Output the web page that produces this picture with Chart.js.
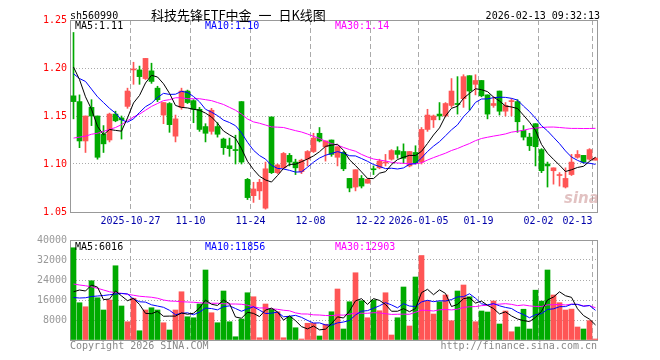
<!DOCTYPE html>
<html><head><meta charset="utf-8">
<script src="https://cdn.jsdelivr.net/npm/chart.js@4.4.1/dist/chart.umd.min.js"></script>
<style>
body{margin:0;background:#fff;width:660px;height:360px;position:relative;overflow:hidden;font-family:"DejaVu Sans Mono",monospace;}
.t{position:absolute;white-space:pre;font-size:10px;line-height:12px;color:#000;}
canvas{position:absolute;left:0;}
#c1{top:0;}
#c2{top:230px;}
</style></head><body>
<canvas id="c1" width="660" height="232"></canvas>
<canvas id="c2" width="660" height="130"></canvas>
<div class="t" style="left:70px;top:10px;">sh560990</div>
<div class="t" style="left:151px;top:7px;font-family:'Noto Sans CJK SC',sans-serif;font-size:13px;line-height:16px;word-spacing:4px;">科技先锋ETF中金 一 日K线图</div>
<div class="t" style="right:60px;top:10px;">2026-02-13 09:32:13</div>
<div class="t" id="m5" style="left:75px;top:20px;color:#000;"></div>
<div class="t" id="m10" style="left:205px;top:20px;color:#0000ff;"></div>
<div class="t" id="m30" style="left:335px;top:20px;color:#ff00ff;"></div>
<div class="t" id="v5" style="left:75px;top:241px;color:#000;"></div>
<div class="t" id="v10" style="left:205px;top:241px;color:#0000ff;"></div>
<div class="t" id="v30" style="left:335px;top:241px;color:#ff00ff;"></div>
<div class="t" style="left:70px;top:340px;color:#888;">Copyright 2026 SINA.COM</div>
<div class="t" style="right:63px;top:340px;color:#888;">http://finance.sina.com.cn</div>
<div class="t" style="left:564px;top:190px;font-family:'DejaVu Sans',sans-serif;font-style:italic;font-weight:bold;font-size:15px;line-height:16px;color:rgba(190,120,120,0.45);">sina</div>
<script>
// ---- data (2025-10-13 .. 2026-02-13, 88 trading days) ----
const openP = [
1.171,1.165,1.124,1.159,1.150,1.131,1.125,1.152,1.148,1.160,
1.198,1.198,1.189,1.197,1.179,1.151,1.163,1.129,1.159,1.176,
1.166,1.157,1.139,1.134,1.139,1.126,1.119,1.115,1.165,1.084,
1.067,1.072,1.054,1.149,1.091,1.096,1.109,1.102,1.092,1.105,
1.113,1.132,1.118,1.125,1.107,1.112,1.085,1.076,1.085,1.080,
1.095,1.096,1.101,1.105,1.114,1.113,1.098,1.112,1.102,1.136,
1.146,1.152,1.150,1.161,1.163,1.168,1.192,1.183,1.187,1.172,
1.161,1.176,1.155,1.165,1.165,1.135,1.128,1.142,1.115,1.100,
1.093,1.088,1.076,1.089,1.107,1.109,1.105,1.104];
const highP = [
1.237,1.172,1.150,1.167,1.150,1.140,1.153,1.155,1.150,1.179,
1.206,1.202,1.210,1.205,1.181,1.164,1.164,1.151,1.179,1.177,
1.167,1.159,1.142,1.158,1.143,1.127,1.127,1.130,1.165,1.085,
1.081,1.084,1.102,1.149,1.100,1.112,1.111,1.105,1.105,1.114,
1.132,1.138,1.124,1.125,1.118,1.113,1.085,1.094,1.088,1.085,
1.098,1.105,1.110,1.115,1.118,1.121,1.113,1.119,1.138,1.157,
1.151,1.164,1.164,1.189,1.191,1.193,1.192,1.193,1.187,1.172,
1.170,1.176,1.164,1.168,1.167,1.140,1.132,1.142,1.116,1.102,
1.096,1.091,1.096,1.110,1.114,1.109,1.116,1.107];
const lowP = [
1.147,1.117,1.112,1.140,1.105,1.112,1.123,1.144,1.126,1.158,
1.183,1.183,1.188,1.184,1.165,1.142,1.133,1.123,1.157,1.163,
1.143,1.134,1.123,1.131,1.128,1.110,1.108,1.100,1.100,1.063,
1.060,1.063,1.053,1.090,1.090,1.095,1.098,1.089,1.090,1.098,
1.112,1.123,1.103,1.108,1.098,1.093,1.071,1.072,1.075,1.080,
1.089,1.095,1.098,1.104,1.106,1.101,1.097,1.100,1.100,1.134,
1.138,1.146,1.149,1.159,1.152,1.159,1.156,1.172,1.170,1.147,
1.159,1.151,1.150,1.150,1.133,1.125,1.114,1.098,1.091,1.076,
1.079,1.077,1.075,1.088,1.106,1.101,1.104,1.104];
const closeP = [
1.165,1.124,1.150,1.150,1.107,1.121,1.152,1.145,1.146,1.176,
1.199,1.191,1.210,1.186,1.167,1.164,1.141,1.147,1.176,1.164,
1.157,1.136,1.132,1.156,1.131,1.117,1.116,1.114,1.102,1.065,
1.074,1.081,1.095,1.091,1.099,1.111,1.102,1.096,1.104,1.113,
1.127,1.124,1.124,1.110,1.118,1.095,1.075,1.094,1.077,1.084,
1.094,1.103,1.102,1.114,1.110,1.106,1.113,1.101,1.136,1.151,
1.150,1.150,1.163,1.176,1.162,1.191,1.176,1.187,1.171,1.152,
1.163,1.155,1.161,1.166,1.144,1.128,1.119,1.118,1.093,1.098,
1.096,1.089,1.085,1.102,1.110,1.102,1.115,1.106];
const volume = [
36900,14900,13300,23700,16900,12000,16000,29700,13600,7300,
16700,3700,12000,12900,12000,6900,4000,12000,19300,9300,
8900,14400,28000,10900,6900,19600,7300,1300,8400,18900,
17300,900,14400,12300,11300,900,9300,4900,400,6700,
6700,1600,6300,11300,20400,4400,15300,26900,15700,8900,
16000,11700,18900,2000,8900,21200,5600,25200,33800,15600,
10400,15300,18000,7700,19600,22000,17300,7300,11600,11200,
15600,6400,11600,3300,5200,12300,4400,19930,15550,28000,
18000,14930,12000,12350,5200,4400,7730,400];
const ma5Head  = [1.201,1.188,1.170,1.157];
const ma10Head = [1.194,1.189,1.186,1.178,1.170,1.164,1.158,1.153,1.146];
const ma30Head = [1.127,1.128,1.129,1.131,1.132,1.134,1.136,1.138,1.141,1.145,1.149,1.152,1.156,1.160,1.163,1.166,1.167,1.169,1.169,1.168,1.168,1.168,1.167,1.166,1.164,1.162,1.159,1.156,1.152];
const vma5Head  = [19300,20000,19600,22000];
const vma10Head = [17000,16800,16900,17400,17600,17800,18100,18400,18600];
const vma30Head = [22400,22000,21700,21300,20700,20000,19300,18900,18700,18300,17900,17500,17300,17100,16700,16000,15600,15500,15300,15200,15100,14900,14800,14700,14700,14500,14400,14400,14300];
// x tick labels (placed at the boundary before that day)
const tickIdx = [9.5,19.5,29.5,39.5,49.5,57.5,67.5,77.5,86.5];
const tickLabels = ['2025-10-27','11-10','11-24','12-08','12-22','2026-01-05','01-19','02-02','02-13     '];
const priceTicks = [1.05,1.10,1.15,1.20,1.25];
const volTicks = [0,8000,16000,24000,32000,40000];

// ---- helpers ----
const N = closeP.length;
const idx = [...Array(N).keys()];
function ma(arr,n,head){return arr.map((_,i)=>{if(i<n-1)return head[i];let s=0;for(let j=i-n+1;j<=i;j++)s+=arr[j];return s/n;});}
const RED='#ff5555', GREEN='#00aa00';
const up = i => closeP[i]>=openP[i];
const colors = idx.map(i=>up(i)?RED:GREEN);
const XMIN = -7/12, XMAX = XMIN+N;

const pm5=ma(closeP,5,ma5Head), pm10=ma(closeP,10,ma10Head), pm30=ma(closeP,30,ma30Head);
const vm5=ma(volume,5,vma5Head), vm10=ma(volume,10,vma10Head), vm30=ma(volume,30,vma30Head);
document.getElementById('m5').textContent='MA5:'+pm5[N-1].toFixed(2);
document.getElementById('m10').textContent='MA10:'+pm10[N-1].toFixed(2);
document.getElementById('m30').textContent='MA30:'+pm30[N-1].toFixed(2);
document.getElementById('v5').textContent='MA5:'+Math.round(vm5[N-1]);
document.getElementById('v10').textContent='MA10:'+Math.round(vm10[N-1]);
document.getElementById('v30').textContent='MA30:'+Math.round(vm30[N-1]);

const frame={id:'frame',beforeDatasetsDraw(c){const a=c.chartArea,x=c.ctx;x.save();x.strokeStyle='#999';x.lineWidth=1;x.strokeRect(a.left+0.5,a.top+0.5,a.right-a.left-1,a.bottom-a.top);x.restore();}};
const line=(arr,color)=>({type:'line',data:idx.map(i=>({x:i,y:arr[i]})),borderColor:color,borderWidth:1,pointRadius:0,fill:false,tension:0,order:0});
const font={family:'DejaVu Sans Mono',size:10};
function xScale(showLabels){return {type:'linear',min:XMIN,max:XMAX,offset:false,
  afterBuildTicks:s=>{s.ticks=tickIdx.map(v=>({value:v}));},
  afterFit:s=>{s.height=showLabels?20:0;},
  ticks:{display:showLabels,autoSkip:false,maxRotation:0,padding:3,color:'#0000aa',font,callback:(v,i)=>tickLabels[i]},
  grid:{offset:false,color:'#aaa',drawTicks:false},border:{display:false,dash:[5,3]}};}
Chart.defaults.animation=false;

new Chart(document.getElementById('c1'),{type:'bar',
 data:{datasets:[
  line(pm5,'#000000'),line(pm10,'#0000ff'),line(pm30,'#ff00ff'),
  {data:idx.map(i=>({x:i,y:[Math.min(openP[i],closeP[i]),Math.max(openP[i],closeP[i])]})),backgroundColor:colors,barThickness:5,minBarLength:1,grouped:false,order:2},
  {data:idx.map(i=>({x:i,y:[lowP[i],highP[i]]})),backgroundColor:colors,barThickness:1,grouped:false,order:3}
 ]},
 options:{responsive:false,animation:false,layout:{padding:{top:20,right:62,left:0,bottom:0}},
  plugins:{legend:{display:false},tooltip:{enabled:false}},
  scales:{x:xScale(true),
   y:{min:1.05,max:1.25,afterBuildTicks:s=>{s.ticks=priceTicks.map(v=>({value:v}));},afterFit:s=>{s.width=70;},
      ticks:{color:'#ff0000',font,padding:3,callback:v=>v.toFixed(2)},grid:{color:'#aaa',drawTicks:false},border:{display:false,dash:[1,2]}}}},
 plugins:[frame]});

new Chart(document.getElementById('c2'),{type:'bar',
 data:{datasets:[
  line(vm5,'#000000'),line(vm10,'#0000ff'),line(vm30,'#ff00ff'),
  {data:idx.map(i=>({x:i,y:volume[i]})),backgroundColor:colors,barThickness:5,grouped:false,order:2}
 ]},
 options:{responsive:false,animation:false,layout:{padding:{top:10,right:62,left:0,bottom:20}},
  plugins:{legend:{display:false},tooltip:{enabled:false}},
  scales:{x:xScale(false),
   y:{min:0,max:40000,afterBuildTicks:s=>{s.ticks=volTicks.map(v=>({value:v}));},afterFit:s=>{s.width=70;},
      ticks:{color:'#999',font,padding:3,callback:v=>v===0?'':String(v)},grid:{color:'#aaa',drawTicks:false},border:{display:false,dash:[1,2]}}}},
 plugins:[frame]});
</script>
</body></html>
